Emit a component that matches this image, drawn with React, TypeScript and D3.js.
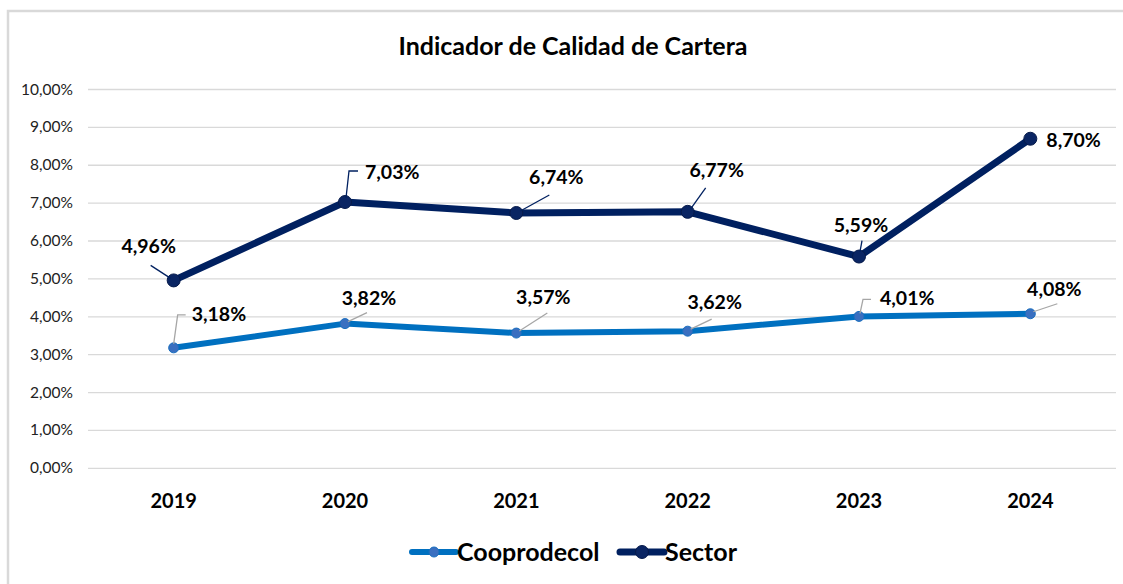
import React, { useEffect, useRef } from "react";
import * as d3 from "d3";

// data
const years = ["2019", "2020", "2021", "2022", "2023", "2024"];
const cooprodecol = [3.18, 3.82, 3.57, 3.62, 4.01, 4.08];
const sector = [4.96, 7.03, 6.74, 6.77, 5.59, 8.7];
const yTicks = [0, 1, 2, 3, 4, 5, 6, 7, 8, 9, 10];
const seriesNames = ["Cooprodecol", "Sector"];

// label placement (offset from the point) and leader lines, like Excel's manual labels
type Lbl = { dx: number; dy: number; anchor: string; leader: [number, number][] };
const sectorLabels: Lbl[] = [
  { dx: -25, dy: -27, anchor: "middle", leader: [[-3, -2], [-23, -15]] },
  { dx: 20, dy: -23, anchor: "start", leader: [[1, -4], [4, -31], [13, -31]] },
  { dx: 40, dy: -29, anchor: "middle", leader: [[4, -2], [33, -18]] },
  { dx: 29, dy: -35, anchor: "middle", leader: [[3, -3], [18, -24]] },
  { dx: 2, dy: -25, anchor: "middle", leader: [[1, -5], [3, -16]] },
  { dx: 16, dy: 8, anchor: "start", leader: [] },
];
const coopLabels: Lbl[] = [
  { dx: 18, dy: -27, anchor: "start", leader: [[0, -4], [4, -33], [12, -33]] },
  { dx: 24, dy: -19, anchor: "middle", leader: [[3, -2], [22, -11]] },
  { dx: 27, dy: -29, anchor: "middle", leader: [[3, -2], [31, -20]] },
  { dx: 27, dy: -22, anchor: "middle", leader: [[3, -2], [24, -12]] },
  { dx: 21, dy: -11, anchor: "start", leader: [[1, -3], [4, -17], [12, -17]] },
  { dx: 24, dy: -18, anchor: "middle", leader: [[3, -2], [27, -10]] },
];

const W = 1123;
const H = 584;
const FONT = "Lato, 'Open Sans', sans-serif";

const fmt = (v: number) => v.toFixed(2).replace(".", ",") + "%";

export default function App() {
  const ref = useRef<SVGSVGElement>(null);

  useEffect(() => {
    document.body.style.margin = "0";
    const svg = d3.select(ref.current);
    svg.selectAll("*").remove();

    const left = 88, right = 1116, top = 89.5, bottom = 468.3;

    const x = d3.scaleBand().domain(years).range([left, right]).padding(0);
    const y = d3.scaleLinear().domain([0, 10]).range([bottom, top]);
    const cx = (yr: string) => (x(yr) as number) + x.bandwidth() / 2;

    svg.append("rect").attr("width", W).attr("height", H).attr("fill", "#fff");
    // chart frame (right and bottom edges fall outside the picture)
    svg
      .append("rect")
      .attr("x", 8)
      .attr("y", 11)
      .attr("width", 1140)
      .attr("height", 600)
      .attr("fill", "none")
      .attr("stroke", "#d9d9d9")
      .attr("stroke-width", 2.5);

    // title
    svg
      .append("text")
      .attr("x", 573)
      .attr("y", 55)
      .attr("text-anchor", "middle")
      .attr("font-family", FONT)
      .attr("font-weight", "bold")
      .attr("font-size", 25)
      .attr("fill", "#000")
      .text("Indicador de Calidad de Cartera");

    // grid + y labels
    const g = svg.append("g");
    yTicks.forEach((t) => {
      g.append("line")
        .attr("x1", left)
        .attr("x2", right)
        .attr("y1", y(t))
        .attr("y2", y(t))
        .attr("stroke", "#d9d9d9")
        .attr("stroke-width", 1.3);
      g.append("text")
        .attr("x", 73)
        .attr("y", y(t) + 5)
        .attr("text-anchor", "end")
        .attr("font-family", FONT)
        .attr("font-size", 15.5)
        .attr("fill", "#222")
        .text(fmt(t));
    });

    // x labels
    years.forEach((yr) => {
      g.append("text")
        .attr("x", cx(yr))
        .attr("y", 508)
        .attr("text-anchor", "middle")
        .attr("font-family", FONT)
        .attr("font-weight", "bold")
        .attr("font-size", 20)
        .attr("fill", "#000")
        .text(yr);
    });

    const line = d3
      .line<number>()
      .x((_, i) => cx(years[i]))
      .y((d) => y(d));

    const series = [
      { vals: cooprodecol, color: "#0070C0", width: 6, r: 5, mfill: "#3a6fc0", mstroke: "#1a6fbf", lbl: coopLabels, leader: "#a6a6a6" },
      { vals: sector, color: "#002060", width: 7, r: 6.5, mfill: "#0a2563", mstroke: "#061a4a", lbl: sectorLabels, leader: "#002060" },
    ];

    series.forEach((s) => {
      svg
        .append("path")
        .datum(s.vals)
        .attr("d", line)
        .attr("fill", "none")
        .attr("stroke", s.color)
        .attr("stroke-width", s.width)
        .attr("stroke-linejoin", "round");

      s.vals.forEach((v, i) => {
        const px = cx(years[i]);
        const py = y(v);
        svg
          .append("circle")
          .attr("cx", px)
          .attr("cy", py)
          .attr("r", s.r)
          .attr("fill", s.mfill)
          .attr("stroke", s.mstroke)
          .attr("stroke-width", 1);
        const l = s.lbl[i];
        if (l.leader.length) {
          svg
            .append("polyline")
            .attr("points", l.leader.map(([a, b]) => `${px + a},${py + b}`).join(" "))
            .attr("fill", "none")
            .attr("stroke", s.leader)
            .attr("stroke-width", 1.3);
        }
        svg
          .append("text")
          .attr("x", px + l.dx)
          .attr("y", py + l.dy)
          .attr("text-anchor", l.anchor)
          .attr("font-family", FONT)
          .attr("font-weight", "bold")
          .attr("font-size", 19.5)
          .attr("fill", "#000")
          .text(fmt(v));
      });
    });

    // legend
    const legX = [412, 620];
    series.forEach((s, i) => {
      const lx = legX[i];
      const ly = 552;
      svg
        .append("line")
        .attr("x1", lx)
        .attr("x2", lx + 44)
        .attr("y1", ly)
        .attr("y2", ly)
        .attr("stroke", s.color)
        .attr("stroke-width", s.width)
        .attr("stroke-linecap", "round");
      svg
        .append("circle")
        .attr("cx", lx + 22)
        .attr("cy", ly)
        .attr("r", s.r)
        .attr("fill", s.mfill)
        .attr("stroke", s.mstroke);
      svg
        .append("text")
        .attr("x", lx + 45)
        .attr("y", ly + 9)
        .attr("font-family", FONT)
        .attr("font-weight", "bold")
        .attr("font-size", 25)
        .attr("fill", "#000")
        .text(seriesNames[i]);
    });
  }, []);

  return <svg ref={ref} width={W} height={H} style={{ display: "block" }} />;
}
